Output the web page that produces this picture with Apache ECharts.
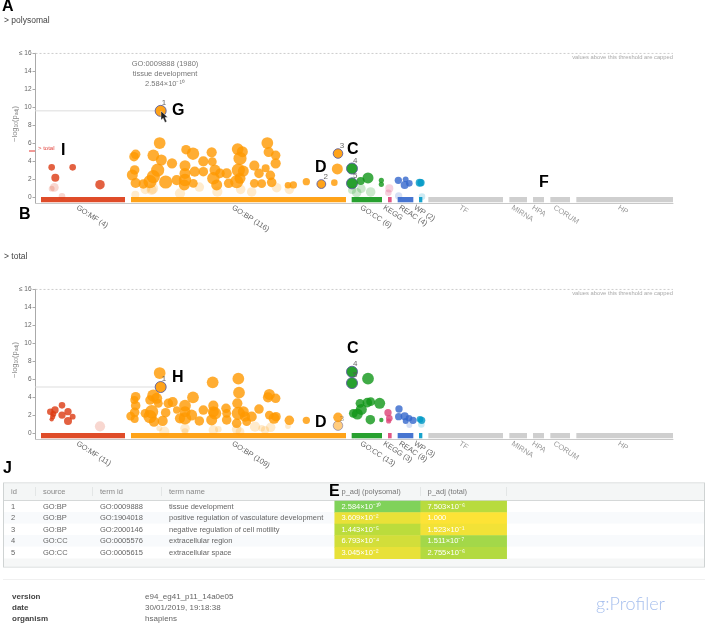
<!DOCTYPE html>
<html>
<head>
<meta charset="utf-8">
<title>g:Profiler</title>
<script src="https://cdn.jsdelivr.net/npm/echarts@6/dist/echarts.min.js"></script>
<style>
    html, body { margin: 0; padding: 0; background: #fff; }
    #chart { width: 708px; height: 626px; }
</style>
</head>
<body>
<div id="chart"></div>
<script>
// term order axis, every source has its own stretch of it
var sourceStart = [123, 393, 1055, 1164, 1193, 1257, 1285, 1528, 1599, 1651, 1729];
var sourceEnd = [375, 1038, 1146, 1175, 1240, 1267, 1509, 1581, 1632, 1710, 2019];
var labelsPoly = ['GO:MF (4)', 'GO:BP (116)', 'GO:CC (6)', 'KEGG', 'REAC (4)', 'WP (2)', 'TF', 'MIRNA', 'HPA', 'CORUM', 'HP'];
var labelsTotal = ['GO:MF (11)', 'GO:BP (109)', 'GO:CC (13)', 'KEGG (3)', 'REAC (8)', 'WP (3)', 'TF', 'MIRNA', 'HPA', 'CORUM', 'HP'];

// points: [term order, -log10(p_adj), term size, highlight number]
var mfPoly = [[155,3.3,94],[218,3.3,94],[166,2.15,250],[300,1.37,720]];
var mfPolyFaded = [[163,1.07,430],[155,.93,57],[186,.07,94]];
var bpPoly = [[479,6.01,3300],[558,5.27,720],[579,4.82,5300],[407,4.75,720],[402,4.49,720],[460,4.64,3300],[484,4.12,1980],
    [516,3.75,1150],[404,3.01,720],[397,2.45,1980],[407,1.56,1150],[430,1.45,720],[473,3.0,8900],[460,2.26,8900],[450,1.71,8900],
    [497,1.67,8900],[555,3.49,1980],[555,2.63,1980],[530,1.89,1150],[555,1.89,5300],[553,1.34,1980],[580,1.52,430],[584,2.82,1150],
    [610,2.82,720],[610,3.97,1150],[635,4.97,1150],[637,3.93,430],[645,3.0,1980],[640,2.08,5300],[660,2.63,720],[680,2.63,1150],
    [650,1.34,1980],[686,1.52,720],[713,5.34,3300],[727,5.05,1980],[720,4.3,8900],[715,3.0,8900],[730,2.89,1980],[710,1.71,8900],
    [720,2.08,1980],[763,3.49,1150],[777,2.63,720],[797,3.19,250],[802,6.01,3300],[806,5.01,1150],[827,4.64,720],[827,3.75,1150],
    [811,2.41,720],[763,1.52,430],[785,1.48,430],[815,1.63,720],[864,1.3,94],[880,1.34,155],[919,1.71,155],[1003,1.6,94],[1012,3.12,1980],
    [482,9.59,1980,1],[964,1.44,430,2],[1014,4.84,720,3]];
var bpPolyFaded = [[406,.26,250],[436,.85,720],[458,.96,1980],[540,.41,1150],[598,1.11,720],[652,.59,1150],[722,.85,720],[755,.56,720],
    [830,1.04,720],[868,.85,720],[455,.78,1150]];
var ccPoly = [[1056,3.17,1980,4],[1056,1.52,1980,5],[1104,2.12,1980],[1082,1.78,250],[1144,1.86,35],[1144,1.41,35]];
var ccPolyFaded = [[1112,.56,720],[1084,.93,430],[1070,.48,720],[1056,.78,250]];
var keggPoly = [];
var keggPolyFaded = [[1168,.96,250],[1165,.48,94]];
var reacPoly = [[1195,1.86,155],[1217,1.97,57],[1214,1.34,250],[1228,1.52,94]];
var reacPolyFaded = [[1196,.11,155]];
var wpPoly = [[1259,1.6,250],[1263,1.6,155]];
var wpPolyFaded = [[1266,.04,94]];

var mfTotal = [[151,2.37,94],[165,2.56,155],[186,3.08,94],[204,2.37,155],[186,2.0,155],[160,2.11,57],[155,1.52,20],[218,1.82,57],[204,1.34,250],[158,1.82,35]];
var mfTotalFaded = [[300,.74,1150]];
var bpTotal = [[479,6.68,3300],[638,5.64,3300],[715,6.05,3300],[717,4.49,3300],[579,3.97,3300],[407,4.04,720],[403,3.67,250],[407,3.04,720],
    [404,2.3,720],[392,1.89,430],[404,1.56,250],[460,4.16,5300],[470,3.86,1980],[450,3.67,720],[505,3.3,720],[518,3.45,1150],[475,3.3,430],
    [435,2.19,430],[455,2.37,8900],[450,1.82,8900],[462,1.26,1150],[488,1.34,1150],[497,2.26,720],[530,2.56,155],[555,3.04,3300],[555,2.37,1980],
    [540,1.63,1150],[555,1.63,5300],[575,2.0,1980],[598,1.34,720],[610,2.56,720],[640,3.04,1150],[645,2.19,5300],[635,1.45,1980],[640,2.37,1980],
    [678,2.75,720],[680,1.45,720],[680,2.19,430],[712,3.3,1150],[715,2.19,8900],[730,2.37,1980],[735,1.82,1150],[710,1.08,720],[740,1.26,430],
    [755,1.82,1150],[777,2.67,720],[804,3.97,1150],[808,4.3,1980],[827,3.86,720],[808,2.0,430],[828,1.82,720],[822,1.63,1980],[868,1.41,720],
    [919,1.41,155],[1014,1.74,720],[482,5.12,1980,1]];
var bpTotalOutlined = [[1014,.82,720,3]];
var bpTotalFaded = [[478,.52,57],[493,.15,1150],[555,.52,720],[555,.15,94],[640,.33,720],[655,.41,94],[710,.41,720],[720,.15,430],
    [765,.7,1150],[785,.52,94],[795,.33,250],[812,.63,720],[864,.78,57]];
var ccTotal = [[1056,6.82,1980,4],[1056,5.56,1980,5],[1060,2.19,430],[1104,6.05,3300],[1080,3.3,430],[1102,3.38,720],[1112,3.49,430],[1139,3.3,1980],
    [1084,2.63,1980],[1072,2.11,1980],[1111,1.48,720],[1144,1.45,20]];
var keggTotal = [[1164,2.26,155],[1168,1.63,94],[1166,1.34,35]];
var reacTotal = [[1197,2.67,155],[1196,1.82,155],[1214,1.86,250],[1227,1.63,94],[1217,1.34,57],[1239,1.41,155]];
var reacTotalFaded = [[1228,.89,57]];
var wpTotal = [[1260,1.52,94],[1265,1.41,155]];
var wpTotalFaded = [[1264,.96,94]];

// table
var rowId = ['1', '2', '3', '4', '5'];
var rowSource = ['GO:BP', 'GO:BP', 'GO:BP', 'GO:CC', 'GO:CC'];
var rowTermId = ['GO:0009888', 'GO:1904018', 'GO:2000146', 'GO:0005576', 'GO:0005615'];
var rowTermName = ['tissue development', 'positive regulation of vasculature development', 'negative regulation of cell motility', 'extracellular region', 'extracellular space'];
var pPolysomal = ['2.584e-10', '3.609e-2', '1.443e-5', '6.793e-4', '3.045e-2'];
var pTotal = ['7.503e-6', '1.000', '1.523e-1', '1.511e-7', '2.755e-6'];
var headers = ['id', 'source', 'term id', 'term name'];

var chart = echarts.init(document.getElementById('chart'));
var FONT = '"Liberation Sans", Arial, sans-serif';
var XMIN = 106.5, XMAX = 2019;
var colors = {mf: '#dc3912', bp: '#ff9900', cc: '#109618', kegg: '#dd4477', reac: '#3366cc', wp: '#0099c6'};
var sourceColors = [colors.mf, colors.bp, colors.cc, colors.kegg, colors.reac, colors.wp, '#cfcfcf', '#cfcfcf', '#cfcfcf', '#cfcfcf', '#cfcfcf'];

function supText(p) {
    var sup = {'-': '⁻', '0': '⁰', '1': '¹', '2': '²', '3': '³', '4': '⁴', '5': '⁵', '6': '⁶', '7': '⁷', '8': '⁸', '9': '⁹'};
    var parts = p.split('e');
    if (parts.length < 2) return p;
    return parts[0] + '×10' + parts[1].split('').map(function (c) { return sup[c]; }).join('');
}

function dots(rows, color, axis, opacity) {
    return {
        type: 'scatter', xAxisIndex: axis, yAxisIndex: axis, clip: false, silent: true,
        symbolSize: function (v) { return 1.45 * Math.log(v[2]); },
        itemStyle: {color: color, opacity: opacity},
        data: rows.map(function (r) {
            if (!r[3]) return {value: r};
            return {
                value: r,
                itemStyle: {borderColor: '#5c5f9e', borderWidth: 1, opacity: opacity < .5 ? .5 : .9},
                label: {show: true, formatter: String(r[3]), position: [7, -6], color: '#555', fontSize: 8, fontFamily: FONT}
            };
        })
    };
}

function strip(labels, axis) {
    return {
        type: 'custom', xAxisIndex: axis, yAxisIndex: axis, silent: true, clip: false,
        data: sourceStart.map(function (s, i) { return [s, sourceEnd[i]]; }),
        renderItem: function (params, api) {
            var i = params.dataIndex;
            var a = api.coord([api.value(0), 1]);
            var b = api.coord([api.value(1), 0]);
            return {
                type: 'group',
                children: [{
                    type: 'rect',
                    shape: {x: a[0], y: a[1], width: b[0] - a[0], height: b[1] - a[1] - 0.7},
                    style: {fill: sourceColors[i], opacity: i < 6 ? .9 : 1}
                }, {
                    type: 'text', x: (a[0] + b[0]) / 2 - 6, y: b[1] + 4, rotation: -0.57,
                    style: {text: labels[i], fill: i < 6 ? '#666' : '#999', font: '7.5px ' + FONT, align: 'left', verticalAlign: 'middle'}
                }]
            };
        }
    };
}

// hover line running from the y axis to term 1
function hoverLine(axis, x, y) {
    return {
        type: 'line', xAxisIndex: axis, yAxisIndex: axis, silent: true, symbol: 'none',
        lineStyle: {color: '#e8e8e8', width: 1.5}, z: 1,
        data: [[XMIN, y], [x, y]]
    };
}

function capLine(axis) {
    return {
        type: 'line', xAxisIndex: axis, yAxisIndex: axis, silent: true, symbol: 'none',
        lineStyle: {color: '#c4c4c4', width: 1, type: [2, 2]}, z: 1,
        data: [[XMIN, 16], [XMAX, 16]]
    };
}

function yAxisPlot(grid) {
    return {
        type: 'value', gridIndex: grid, min: 0, max: 16, interval: 2,
        axisLine: {show: true, lineStyle: {color: '#aaa', width: 1}},
        axisTick: {show: true, length: 3, lineStyle: {color: '#aaa'}},
        axisLabel: {color: '#666', fontSize: 6.5, margin: 4, fontFamily: FONT, formatter: function (v) { return v === 16 ? '≤ 16' : v; }},
        splitLine: {show: false}
    };
}
function yAxisStrip(grid) {
    return {type: 'value', gridIndex: grid, min: 0, max: 1, axisLine: {show: true, lineStyle: {color: '#aaa', width: 1}}, axisTick: {show: false}, axisLabel: {show: false}, splitLine: {show: false}};
}
function xAxisPlot(grid) {
    return {type: 'value', gridIndex: grid, min: XMIN, max: XMAX, show: false};
}
function xAxisStrip(grid) {
    return {
        type: 'value', gridIndex: grid, min: XMIN, max: XMAX,
        axisLine: {show: true, onZero: false, lineStyle: {color: '#c8c8c8', width: 1}},
        axisTick: {show: false}, axisLabel: {show: false}, splitLine: {show: false}
    };
}

// text helpers for graphic layer
function txt(x, y, text, size, color, extra) {
    var style = {text: text, fill: color, font: (extra && extra.weight ? extra.weight + ' ' : '') + size + 'px ' + (extra && extra.family ? extra.family : FONT),
        align: extra && extra.align ? extra.align : 'left', verticalAlign: 'middle'};
    return {type: 'text', x: x, y: y, z: 20, silent: true, style: style};
}
function letter(x, y, t) { return txt(x, y, t, 16, '#000', {weight: 'bold'}); }
function box(x, y, w, h, fill) {
    return {type: 'rect', x: x, y: y, z: -5, silent: true, shape: {width: w, height: h}, style: {fill: fill}};
}
// axis title, the p_adj part sits a bit lower like a subscript
function axisTitle(y) {
    return {
        type: 'text', x: 15, y: y, z: 20, silent: true, rotation: Math.PI / 2,
        style: {
            text: '{a|−log}{s|10}{a|(p}{s|adj}{a|)}', align: 'center', verticalAlign: 'middle',
            rich: {
                a: {fill: '#888', font: '7.5px ' + FONT},
                s: {fill: '#888', font: '5px ' + FONT, padding: [3, 0, 0, 0]}
            }
        }
    };
}

var graphic = [
    letter(2, 7, 'A'), txt(4, 21, '> polysomal', 8.5, '#444', {weight: 500}),
    letter(19, 215, 'B'), txt(4, 256.5, '> total', 8.5, '#444', {weight: 500}),
    letter(172, 111, 'G'), letter(61, 151, 'I'), letter(315, 168, 'D'), letter(347, 150, 'C'), letter(539, 183, 'F'),
    letter(172, 378, 'H'), letter(315, 423, 'D'), letter(347, 349, 'C'), letter(3, 469, 'J'), letter(329, 492, 'E'),
    axisTitle(124), axisTitle(360),
    txt(165, 63.5, 'GO:0009888 (1980)', 7.5, '#777', {align: 'center'}),
    txt(165, 73.5, 'tissue development', 7.5, '#777', {align: 'center'}),
    txt(165, 83.5, '2.584×10⁻¹⁰', 7.5, '#777', {align: 'center'}),
    txt(673, 57, 'values above this threshold are capped', 5.8, '#aaa', {align: 'right'}),
    txt(673, 293, 'values above this threshold are capped', 5.8, '#aaa', {align: 'right'}),
    txt(38, 148, '> total', 6, '#e2453f'),
    {type: 'line', z: 20, silent: true, shape: {x1: 29, y1: 151, x2: 35, y2: 151}, style: {stroke: '#e2342e', lineWidth: 1}},
    // cursor over term 1
    {type: 'polygon', z: 20, silent: true, shape: {points: [[161, 111], [161, 120], [163.2, 118.2], [165, 122.5], [166.8, 121.6], [165, 117.6], [167.6, 117.2]]}, style: {fill: '#222', stroke: '#fff', lineWidth: .4}},

    // table frame
    box(3, 482.5, 702, 85, '#cfd3d3'),
    box(4, 483.5, 700, 83, '#fff'),
    box(4, 483.5, 700, 17, '#f4f6f6'),
    box(4, 500, 700, 1, '#d5d8d8'),
    box(4, 512, 700, 11.5, '#f8fafc'),
    box(4, 535, 700, 11.5, '#f8fafc'),
    box(4, 558.5, 700, 8, '#f6f7f7'),
    box(3, 579, 702, 1, '#f0f0f0'),
    txt(341.5, 491.5, 'p_adj (polysomal)', 7.5, '#777'),
    txt(427.5, 491.5, 'p_adj (total)', 7.5, '#777'),
    txt(12, 597, 'version', 8, '#444', {weight: 'bold'}),
    txt(12, 608, 'date', 8, '#444', {weight: 'bold'}),
    txt(12, 619, 'organism', 8, '#444', {weight: 'bold'}),
    txt(145, 597, 'e94_eg41_p11_14a0e05', 8, '#666'),
    txt(145, 608, '30/01/2019, 19:18:38', 8, '#666'),
    txt(145, 619, 'hsapiens', 8, '#666'),
    txt(596, 604, 'g:Profiler', 18, '#a8c0ee', {family: 'Lato, sans-serif', weight: 300})
];
var columnX = [11, 43, 100, 169];
[35, 92, 161, 333, 420, 506].forEach(function (x) { graphic.push(box(x, 487, 1, 9, '#e3e6e6')); });
headers.forEach(function (h, i) { graphic.push(txt(columnX[i], 491.5, h, 7.5, '#888')); });
rowId.forEach(function (id, r) {
    var y = 506.5 + r * 11.55;
    graphic.push(txt(columnX[0], y, id, 7.5, '#666'));
    graphic.push(txt(columnX[1], y, rowSource[r], 7.5, '#666'));
    graphic.push(txt(columnX[2], y, rowTermId[r], 7.5, '#666'));
    graphic.push(txt(columnX[3], y, rowTermName[r], 7.5, '#666'));
});

// p value cells
var heatData = [];
rowId.forEach(function (id, r) {
    heatData.push([0, r, -Math.log10(Number(pPolysomal[r])), supText(pPolysomal[r])]);
    heatData.push([1, r, -Math.log10(Number(pTotal[r])), supText(pTotal[r])]);
});

var series = [
    capLine(0), hoverLine(0, 482, 9.59), strip(labelsPoly, 1),
    dots(mfPolyFaded, colors.mf, 0, .2), dots(bpPolyFaded, colors.bp, 0, .2), dots(ccPolyFaded, colors.cc, 0, .22),
    dots(keggPolyFaded, colors.kegg, 0, .25), dots(reacPolyFaded, colors.reac, 0, .2), dots(wpPolyFaded, colors.wp, 0, .2),
    dots(mfPoly, colors.mf, 0, .8), dots(bpPoly, colors.bp, 0, .8), dots(ccPoly, colors.cc, 0, .8),
    dots(keggPoly, colors.kegg, 0, .8), dots(reacPoly, colors.reac, 0, .8), dots(wpPoly, colors.wp, 0, .8),

    capLine(2), hoverLine(2, 482, 5.12), strip(labelsTotal, 3),
    dots(mfTotalFaded, colors.mf, 2, .2), dots(bpTotalFaded, colors.bp, 2, .2), dots(reacTotalFaded, colors.reac, 2, .2), dots(wpTotalFaded, colors.wp, 2, .2),
    dots(bpTotalOutlined, colors.bp, 2, .3),
    dots(mfTotal, colors.mf, 2, .8), dots(bpTotal, colors.bp, 2, .8), dots(ccTotal, colors.cc, 2, .8),
    dots(keggTotal, colors.kegg, 2, .8), dots(reacTotal, colors.reac, 2, .8), dots(wpTotal, colors.wp, 2, .8),
    {
        type: 'heatmap', xAxisIndex: 4, yAxisIndex: 4, silent: true, data: heatData,
        label: {show: true, position: 'insideLeft', distance: 7, color: '#fff', fontSize: 7.5, fontWeight: 500, fontFamily: FONT,
            formatter: function (p) { return p.data[3]; }}
    }
];

chart.setOption({
    animation: false,
    backgroundColor: '#fff',
    textStyle: {fontFamily: FONT},
    grid: [
        {left: 35.5, width: 637.5, top: 53.3, height: 143.7, outerBoundsMode: 'none'},
        {left: 35.5, width: 637.5, top: 197, height: 6, outerBoundsMode: 'none'},
        {left: 35.5, width: 637.5, top: 289.3, height: 143.7, outerBoundsMode: 'none'},
        {left: 35.5, width: 637.5, top: 433, height: 6, outerBoundsMode: 'none'},
        {left: 334.7, width: 172, top: 501, height: 57.7, outerBoundsMode: 'none'}
    ],
    xAxis: [xAxisPlot(0), xAxisStrip(1), xAxisPlot(2), xAxisStrip(3),
        {type: 'category', gridIndex: 4, data: ['p_adj (polysomal)', 'p_adj (total)'], show: false}],
    yAxis: [yAxisPlot(0), yAxisStrip(1), yAxisPlot(2), yAxisStrip(3),
        {type: 'category', gridIndex: 4, data: rowId, inverse: true, show: false}],
    visualMap: {show: false, type: 'continuous', seriesIndex: series.length - 1, dimension: 2, min: 0, max: 9.6,
        inRange: {color: ['#fde336', '#bcdc3c', '#80d25a']}},
    graphic: graphic,
    series: series
});
</script>
</body>
</html>
